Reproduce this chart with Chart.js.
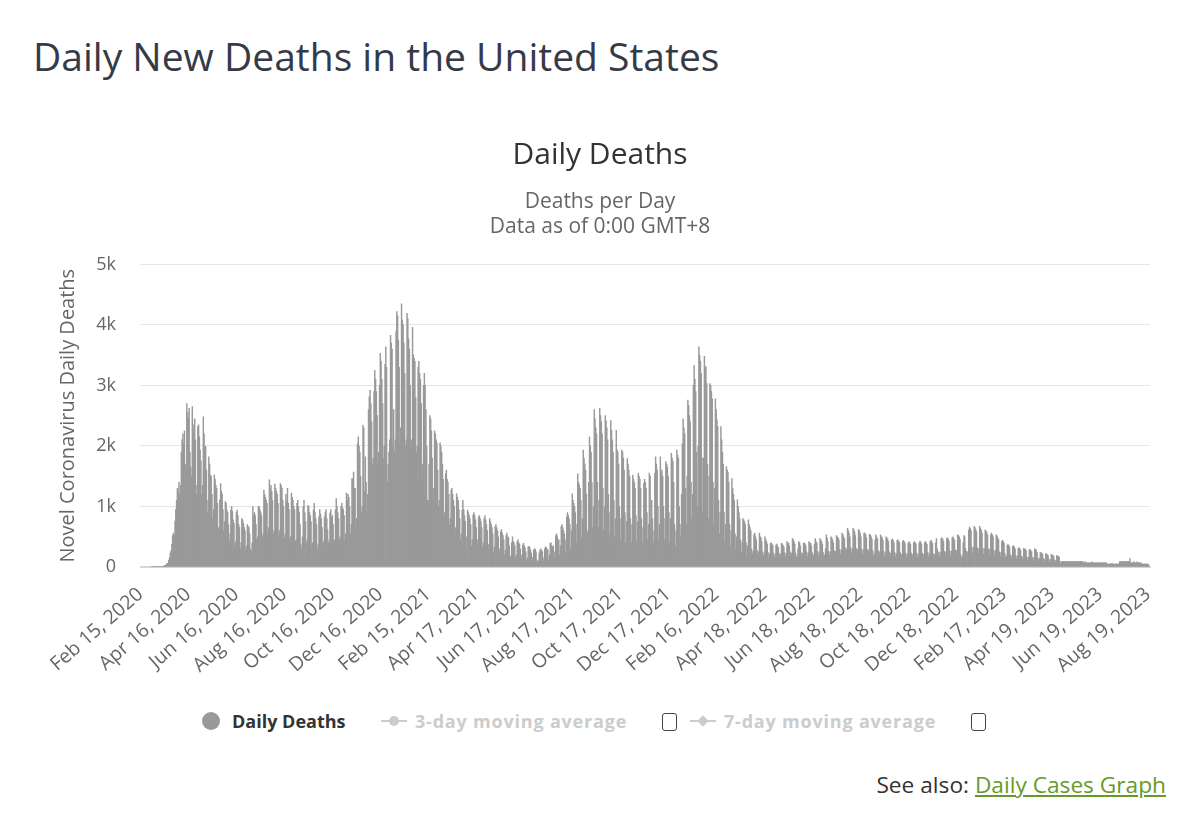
<!DOCTYPE html>
<html lang="en">
<head>
<meta charset="utf-8">
<title>Daily New Deaths in the United States</title>
<script src="https://cdn.jsdelivr.net/npm/chart.js@4.4.1/dist/chart.umd.min.js"></script>
<style>
  html, body { margin: 0; padding: 0; background: #fff; }
  body { font-family: "Open Sans", sans-serif; }
  #page { position: relative; width: 1200px; height: 820px; overflow: hidden; }
  h1 { position: absolute; left: 33px; top: 36px; margin: 0; font-size: 39px; font-weight: 400;
       line-height: 1; color: #363a48; white-space: nowrap; }
  #chartBox { position: absolute; left: 0; top: 125px; width: 1200px; height: 560px; }
  .lg { position: absolute; top: 712px; font-size: 18px; font-weight: 700; line-height: 1; white-space: nowrap; color: #333; }
  .lg.off { color: #cccccc; letter-spacing: 0.8px; }
  .dot { position: absolute; left: 202px; top: 712px; width: 18px; height: 18px; border-radius: 50%; background: #999; }
  .symLine { position: absolute; top: 720px; width: 26px; height: 2px; background: #ccc; }
  .symCircle { position: absolute; top: 716px; width: 10px; height: 10px; border-radius: 50%; background: #ccc; }
  .symDiamond { position: absolute; top: 716px; width: 8px; height: 8px; background: #ccc; transform: rotate(45deg); }
  .box { position: absolute; top: 713px; width: 13px; height: 16px; border: 1.5px solid #444; border-radius: 3px; background: #fff; }
  #seeAlso { position: absolute; right: 34px; top: 774px; font-size: 22.7px; line-height: 1; color: #333; white-space: nowrap; }
  #seeAlso a { color: #659a2a; text-decoration: underline; }
</style>
</head>
<body>
<div id="page">
  <h1>Daily New Deaths in the United States</h1>
  <div id="chartBox"><canvas id="deathsChart" width="1200" height="560"></canvas></div>

  <div class="dot"></div>
  <div class="lg" style="left:232px">Daily Deaths</div>
  <div class="symLine" style="left:381px"></div>
  <div class="symCircle" style="left:389px"></div>
  <div class="lg off" style="left:415px">3-day moving average</div>
  <div class="box" style="left:662px"></div>
  <div class="symLine" style="left:690px"></div>
  <div class="symDiamond" style="left:699px; top:717px"></div>
  <div class="lg off" style="left:724px">7-day moving average</div>
  <div class="box" style="left:971px"></div>

  <div id="seeAlso">See also: <a href="#">Daily Cases Graph</a></div>
</div>

<script>
// one row per week, Saturday..Friday, starting Sat Feb 15, 2020
const dailyDeaths = [
  0,0,0,0,0,0,0,
  0,0,0,0,0,0,0,
  1,0,1,4,1,2,1,
  3,4,4,5,7,8,11,
  7,10,18,23,26,41,59,
  60,110,150,230,270,380,520,
  560,520,760,950,1100,1300,1250,
  1400,1200,1350,1900,2100,2200,2050,
  2250,1700,1600,2700,2550,2450,2620,
  1900,1650,1500,2650,2350,2200,2450,
  2100,1200,1350,2320,2350,2150,1930,
  1750,1200,1350,2480,2200,2000,1990,
  1600,900,1100,1820,1700,1520,1500,
  1200,800,950,1520,1450,1350,1300,
  1050,650,600,1110,1380,1250,1200,
  950,600,750,1080,1050,940,900,
  700,420,550,940,1000,920,780,
  720,350,420,900,940,850,700,
  650,300,400,800,780,720,650,
  600,280,350,700,670,650,550,
  300,260,400,1000,850,900,850,
  700,450,500,1000,1000,950,900,
  850,500,550,1270,1200,1150,1100,
  1050,550,650,1440,1300,1350,1250,
  1100,550,600,1370,1300,1250,1200,
  1050,520,600,1380,1350,1300,1100,
  1000,480,550,1200,1080,1300,1050,
  950,450,500,1220,1150,1100,1000,
  950,420,450,1050,1100,1000,900,
  700,380,300,500,1000,1100,900,
  750,400,450,1020,1000,900,850,
  750,350,400,940,1050,900,800,
  700,300,380,830,950,880,800,
  650,350,420,830,900,950,800,
  620,400,450,890,950,820,850,
  700,420,450,940,1130,1000,900,
  800,450,500,1000,1050,980,950,
  850,450,550,1220,1100,1200,1150,
  1000,550,700,1460,1450,1570,1300,
  1300,650,800,2040,2150,2000,1900,
  1500,900,1000,2340,2300,1250,1820,
  1400,900,1200,2600,2810,2920,2700,
  2400,1700,1800,2900,3250,3100,2900,
  2500,1700,1900,3000,3530,3400,3100,
  2700,1800,2000,3350,3640,3300,1400,
  1700,1900,2100,3830,3700,3600,2000,
  2600,1900,2100,3900,4220,4150,3750,
  3300,2000,2300,4350,4080,4000,3700,
  3200,2000,2100,4190,4100,3770,3600,
  3000,2000,2100,3960,3500,3450,3400,
  2800,1900,2000,3300,3400,3200,3100,
  2700,1500,1700,3000,3200,3000,2600,
  2000,1100,1100,1700,2500,2450,2250,
  1800,1100,1300,2250,2200,2100,2050,
  1600,1000,1100,2050,2000,1900,1700,
  1450,800,900,1540,1600,1450,1400,
  1200,700,800,1270,1300,1200,1100,
  1000,600,650,1210,1150,1100,950,
  800,450,550,940,1100,950,850,
  750,250,500,940,900,850,800,
  700,350,450,860,900,850,780,
  650,350,450,830,850,800,750,
  650,330,400,800,850,780,700,
  600,300,380,800,750,700,650,
  550,250,330,670,700,650,600,
  500,230,300,580,620,560,520,
  450,200,280,520,560,500,480,
  350,180,150,400,500,420,400,
  350,150,200,420,450,400,380,
  300,130,200,360,390,350,320,
  250,100,150,335,340,320,280,
  230,90,160,280,300,290,250,
  120,80,100,230,280,300,280,
  250,100,150,300,335,320,300,
  280,120,200,390,400,350,330,
  350,150,250,520,550,500,450,
  450,200,350,670,700,650,600,
  550,250,450,830,900,850,800,
  700,300,600,1210,1100,1050,1000,
  900,400,700,1540,1400,1350,1300,
  1100,500,800,1930,1800,1700,1600,
  1200,550,600,1400,2150,2000,1900,
  1400,650,1000,2600,2450,2300,2200,
  1400,650,1100,2620,2500,2400,2200,
  1300,600,1000,2500,2420,2300,2100,
  1200,550,900,2420,2260,2100,1900,
  1100,500,800,2260,1930,1900,1700,
  1000,450,800,1930,1900,1800,1600,
  900,400,750,1790,1700,1600,1500,
  800,400,700,1520,1450,1400,1300,
  850,420,750,1550,1500,1450,1300,
  800,400,650,1380,1450,1400,1300,
  900,450,700,1550,1500,700,1100,
  800,400,600,1550,1820,1700,1600,
  1000,450,700,1820,1550,1600,1500,
  1000,450,800,1740,1700,1650,1500,
  900,400,800,1880,1800,1750,1400,
  700,350,600,1930,1850,1800,1000,
  700,500,1200,2040,2450,2300,2200,
  1300,700,1500,2760,2670,2500,2400,
  1400,800,1200,3000,3330,3100,2900,
  1900,1000,2000,3640,3500,3400,3200,
  1800,900,1800,3480,3300,3310,3030,
  1700,800,1500,3030,3000,2900,2780,
  1400,700,1300,2780,2600,2430,2320,
  1100,550,900,2320,2100,1900,1700,
  900,400,700,1660,1600,1570,1400,
  700,350,600,1460,1300,1200,1100,
  550,300,500,1110,1000,900,800,
  450,250,400,800,780,750,700,
  400,200,350,780,700,650,600,
  300,220,260,530,560,500,450,
  280,200,250,560,500,480,420,
  250,180,230,500,450,420,380,
  240,170,220,390,400,380,350,
  230,160,210,360,380,350,320,
  230,160,210,390,380,360,330,
  240,170,220,420,400,390,350,
  250,180,230,470,450,420,380,
  230,160,180,300,420,400,350,
  240,170,220,390,400,380,350,
  250,180,230,420,400,390,350,
  240,170,200,380,470,420,400,
  260,180,240,470,450,420,380,
  240,170,200,300,530,480,420,
  260,190,250,500,480,450,400,
  270,200,260,520,500,480,450,
  290,210,280,560,540,500,470,
  320,230,300,640,600,560,500,
  320,230,300,640,620,580,520,
  310,220,290,620,600,560,500,
  300,210,280,560,560,530,480,
  290,200,270,540,530,500,460,
  270,190,220,450,530,500,460,
  270,190,250,530,500,480,440,
  260,180,240,500,480,460,420,
  250,180,230,450,460,440,400,
  240,170,220,440,450,430,400,
  240,170,210,420,440,420,390,
  230,160,210,390,420,400,370,
  230,160,210,400,420,400,380,
  230,160,210,390,430,410,380,
  230,160,210,400,420,400,370,
  240,170,220,420,440,420,390,
  220,150,210,400,470,300,200,
  250,170,240,470,480,460,420,
  260,180,250,470,480,460,430,
  270,190,260,480,500,470,440,
  280,200,280,530,520,500,460,
  200,150,180,400,520,500,300,
  260,200,250,610,660,640,600,
  330,230,320,670,650,620,580,
  320,220,300,670,640,610,560,
  310,210,300,610,600,570,530,
  300,200,290,530,560,530,500,
  280,190,270,530,510,480,450,
  250,170,240,420,440,420,390,
  220,150,180,360,380,360,330,
  200,140,190,340,350,330,300,
  190,130,180,310,320,300,280,
  180,120,170,310,300,290,270,
  170,110,160,280,290,270,250,
  160,100,150,300,290,270,240,
  150,100,140,240,240,230,210,
  140,90,130,220,215,200,190,
  130,85,120,210,200,190,180,
  120,80,110,190,185,175,165,
  90,45,90,90,90,90,90,
  90,90,90,90,90,90,90,
  90,90,90,90,90,90,90,
  90,90,90,90,90,90,90,
  90,90,70,70,90,70,70,
  70,70,70,70,70,70,85,
  70,70,70,70,70,70,70,
  70,70,70,70,70,70,70,
  70,70,70,70,50,50,50,
  50,50,50,60,50,50,50,
  50,50,50,50,50,50,90,
  90,90,90,90,90,90,90,
  90,90,90,90,90,140,70,
  70,70,70,85,70,70,70,
  85,70,70,70,70,70,50,
  50,50,50,50,50,50,50,
  50,20,20
];

const startDate = Date.UTC(2020, 1, 15);
const monthNames = ["Jan","Feb","Mar","Apr","May","Jun","Jul","Aug","Sep","Oct","Nov","Dec"];
const xTickLabels = [
  "Feb 15, 2020", "Apr 16, 2020", "Jun 16, 2020", "Aug 16, 2020", "Oct 16, 2020", "Dec 16, 2020",
  "Feb 15, 2021", "Apr 17, 2021", "Jun 17, 2021", "Aug 17, 2021", "Oct 17, 2021", "Dec 17, 2021",
  "Feb 16, 2022", "Apr 18, 2022", "Jun 18, 2022", "Aug 18, 2022", "Oct 18, 2022", "Dec 18, 2022",
  "Feb 17, 2023", "Apr 19, 2023", "Jun 19, 2023", "Aug 19, 2023"
];
const labelStep = 61;
const yTickLabels = ["0", "1k", "2k", "3k", "4k", "5k"];

// one category per day
const categories = dailyDeaths.map((v, i) => {
  const d = new Date(startDate + i * 86400000);
  return monthNames[d.getUTCMonth()] + " " + d.getUTCDate() + ", " + d.getUTCFullYear();
});

Chart.defaults.font.family = '"Open Sans", sans-serif';

new Chart(document.getElementById("deathsChart"), {
  type: "bar",
  data: {
    labels: categories,
    datasets: [{
      label: "Daily Deaths",
      data: dailyDeaths,
      backgroundColor: "#999999",
      borderWidth: 0,
      barPercentage: 1,
      categoryPercentage: 1
    }]
  },
  options: {
    responsive: false,
    animation: false,
    events: [],
    // equal side padding so the titles centre on x=600
    layout: { padding: { left: 50, right: 50, top: 0, bottom: 0 } },
    plugins: {
      legend: { display: false },
      tooltip: { enabled: false },
      title: {
        display: true,
        text: "Daily Deaths",
        color: "#333333",
        font: { size: 30, weight: "normal" },
        padding: { top: 12, bottom: 7 }
      },
      subtitle: {
        display: true,
        text: ["Deaths per Day", "Data as of 0:00 GMT+8"],
        color: "#666666",
        font: { size: 21, lineHeight: 1.2 },
        padding: { top: 9, bottom: 25 }
      }
    },
    scales: {
      x: {
        grid: { display: false },
        border: { display: true, color: "#ccd6eb", width: 1 },
        ticks: {
          autoSkip: false,
          minRotation: 41,
          maxRotation: 41,
          padding: 8,
          color: "#666666",
          font: { size: 19.5 },
          callback: (value, index) => index % labelStep === 0 ? xTickLabels[index / labelStep] : null
        },
        afterFit: (scale) => { scale.height = 118; }
      },
      y: {
        min: 0,
        max: 5000,
        grid: { color: "#e6e6e6", drawTicks: false },
        border: { display: false },
        ticks: {
          stepSize: 1000,
          padding: 24,
          color: "#666666",
          font: { size: 18 },
          callback: (value) => yTickLabels[value / 1000]
        },
        title: {
          display: true,
          text: "Novel Coronavirus Daily Deaths",
          color: "#666666",
          font: { size: 20 },
          padding: { top: 6, bottom: 0 }
        },
        afterFit: (scale) => { scale.width = 90; }
      }
    }
  }
});
</script>
</body>
</html>
